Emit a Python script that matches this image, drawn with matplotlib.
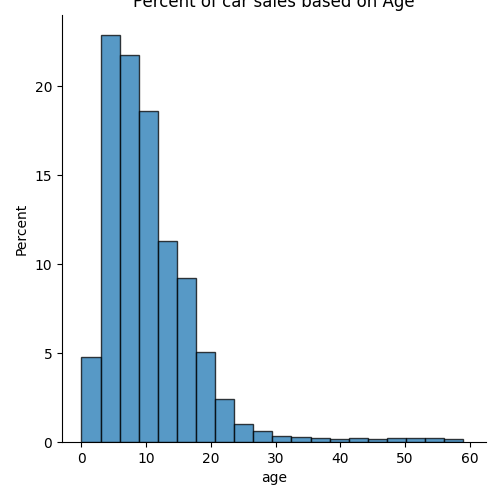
import matplotlib
matplotlib.use("Agg")
import matplotlib.pyplot as plt
import seaborn as sns
import numpy as np

age_min, age_max, n_bins = 0, 59, 20
percent = [4.8, 22.9, 21.75, 18.6, 11.3, 9.2, 5.05, 2.4, 1.0, 0.6,
           0.35, 0.3, 0.25, 0.15, 0.2, 0.15, 0.2, 0.2, 0.2, 0.15]

edges = np.linspace(age_min, age_max, n_bins + 1)
centers = (edges[:-1] + edges[1:]) / 2

fig = plt.figure(figsize=(5, 5), dpi=100)
ax = fig.add_axes([0.124, 0.116, 0.848, 0.854])
ax.hist(centers, bins=edges, weights=percent, color="#1f77b4", alpha=0.75,
        edgecolor="black", linewidth=1)
ax.set_ylabel("Percent")
ax.set_xlabel("age")
ax.set_title("Percent of car sales based on Age")
ax.spines["top"].set_visible(False)
ax.spines["right"].set_visible(False)
ax.set_xlim(-3.0, 62.5)
ax.set_ylim(0, 24.0)
fig.savefig("out.png")
